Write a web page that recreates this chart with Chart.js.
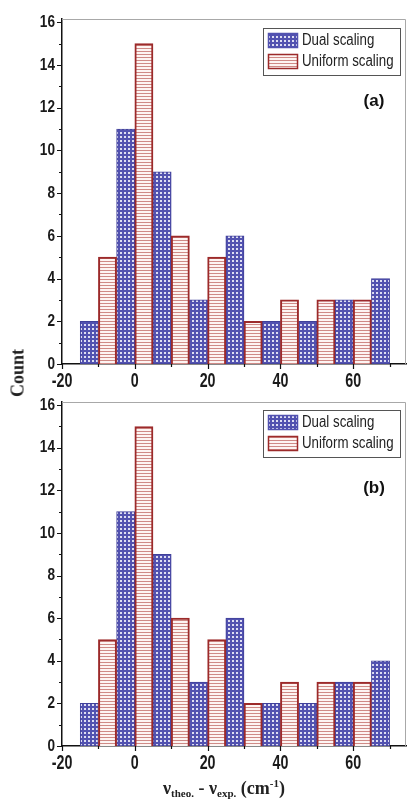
<!DOCTYPE html>
<html>
<head>
<meta charset="utf-8">
<script src="https://cdn.jsdelivr.net/npm/chart.js@4"></script>
<style>
  html, body { margin: 0; padding: 0; background: #fff; }
  body { width: 408px; height: 799px; position: relative; overflow: hidden; }
  .panel { position: absolute; left: 0; width: 408px; }
  #wrapA { top: 0; height: 392px; }
  #wrapB { top: 392px; height: 407px; }
  #yTitle {
    position: absolute; left: 18px; top: 373px;
    transform: translate(-50%, -50%) rotate(-90deg);
    font: bold 18px "Liberation Serif", "DejaVu Serif", serif; color: #222;
    white-space: nowrap;
  }
  #xTitle {
    position: absolute; left: 224px; top: 777px;
    transform: translateX(-50%);
    font: bold 18px "Liberation Serif", "DejaVu Serif", serif; color: #222;
    white-space: nowrap;
  }
  #xTitle sub { font-size: 11px; vertical-align: -3px; }
  #xTitle sup { font-size: 11px; vertical-align: 7px; }
</style>
</head>
<body>
<div class="panel" id="wrapA"><canvas id="chartA"></canvas></div>
<div class="panel" id="wrapB"><canvas id="chartB"></canvas></div>
<div id="yTitle">Count</div>
<div id="xTitle">ν<sub>theo.</sub> - ν<sub>exp.</sub> (cm<sup>-1</sup>)</div>
<script>
// bin centres (cm-1) and counts
const dualBinsA = [-12.5, -2.5, 7.5, 17.5, 27.5, 37.5, 47.5, 57.5, 67.5];
const dualCountsA = [2, 11, 9, 3, 6, 2, 2, 3, 4];
const uniformBinsA = [-7.5, 2.5, 12.5, 22.5, 32.5, 42.5, 52.5, 62.5];
const uniformCountsA = [5, 15, 6, 5, 2, 3, 3, 3];

const dualBinsB = [-12.5, -2.5, 7.5, 17.5, 27.5, 37.5, 47.5, 57.5, 67.5];
const dualCountsB = [2, 11, 9, 3, 6, 2, 2, 3, 4];
const uniformBinsB = [-7.5, 2.5, 12.5, 22.5, 32.5, 42.5, 52.5, 62.5];
const uniformCountsB = [5, 15, 6, 5, 2, 3, 3, 3];

const seriesNames = ['Dual scaling', 'Uniform scaling'];
const xTickValues = [-20, -10, 0, 10, 20, 30, 40, 50, 60, 70];
const yTickValues = [0, 1, 2, 3, 4, 5, 6, 7, 8, 9, 10, 11, 12, 13, 14, 15, 16];

const SANS = '"Liberation Sans", Arial, sans-serif';

// fill patterns
function dotPattern() {
    const c = document.createElement('canvas');
    c.width = 4; c.height = 4;
    const g = c.getContext('2d');
    g.fillStyle = '#5252b0';
    g.fillRect(0, 0, 4, 4);
    g.fillStyle = '#dedef2';
    g.fillRect(0, 0, 2, 2);
    return g.createPattern(c, 'repeat');
}
function stripePattern() {
    const c = document.createElement('canvas');
    c.width = 3; c.height = 3;
    const g = c.getContext('2d');
    g.fillStyle = '#fdf4f2';
    g.fillRect(0, 0, 3, 3);
    g.fillStyle = '#cf8a86';
    g.fillRect(0, 0, 3, 1);
    return g.createPattern(c, 'repeat');
}

// squeezed text to imitate the narrow font of the original
function narrowText(ctx, text, x, y, squeeze) {
    ctx.save();
    ctx.translate(x, y);
    ctx.scale(squeeze, 1);
    ctx.fillText(text, 0, 0);
    ctx.restore();
}

// ticks, tick labels, frame, legend box and panel letter
const decorPlugin = {
    id: 'decor',
    afterDatasetsDraw(chart, args, opts) {
        const ctx = chart.ctx;
        const a = chart.chartArea;
        const xs = chart.scales.x, ys = chart.scales.y;
        ctx.save();
        // grey frame on top and right
        ctx.strokeStyle = '#a8a8a8';
        ctx.lineWidth = 1;
        ctx.beginPath();
        ctx.moveTo(a.left, a.top + 0.5);
        ctx.lineTo(a.right - 0.5, a.top + 0.5);
        ctx.lineTo(a.right - 0.5, a.bottom);
        ctx.stroke();
        // ticks
        ctx.strokeStyle = '#111';
        ctx.lineWidth = 1.2;
        ctx.beginPath();
        xTickValues.forEach(v => {
            const px = Math.round(xs.getPixelForValue(v)) + 0.5;
            const len = v % 20 === 0 ? 5 : 3;
            ctx.moveTo(px, a.bottom);
            ctx.lineTo(px, a.bottom + len);
        });
        yTickValues.forEach(v => {
            const py = Math.round(ys.getPixelForValue(v)) + 0.5;
            const len = v % 2 === 0 ? 5 : 3;
            ctx.moveTo(a.left, py);
            ctx.lineTo(a.left - len, py);
        });
        ctx.stroke();
        // tick labels
        ctx.fillStyle = '#1a1a1a';
        ctx.font = 'bold 21px ' + SANS;
        ctx.textAlign = 'center';
        ctx.textBaseline = 'top';
        xTickValues.filter(v => v % 20 === 0).forEach(v => {
            narrowText(ctx, String(v), xs.getPixelForValue(v), a.bottom + 7, 0.68);
        });
        ctx.font = 'bold 17px ' + SANS;
        ctx.textAlign = 'right';
        ctx.textBaseline = 'middle';
        yTickValues.filter(v => v % 2 === 0).forEach(v => {
            narrowText(ctx, String(v), a.left - 7, ys.getPixelForValue(v), 0.8);
        });
        // legend box
        const b = opts.box;
        ctx.fillStyle = '#fff';
        ctx.fillRect(b.x, b.y, b.w, b.h);
        ctx.strokeStyle = '#555';
        ctx.lineWidth = 1;
        ctx.strokeRect(b.x + 0.5, b.y + 0.5, b.w, b.h);
        ctx.font = '16px ' + SANS;
        ctx.textBaseline = 'middle';
        ctx.textAlign = 'left';
        chart.data.datasets.slice().sort((p, q) => p.legendIndex - q.legendIndex).forEach((ds, i) => {
            const sy = b.y + 5 + i * 21;
            ctx.fillStyle = ds.backgroundColor;
            ctx.fillRect(b.x + 5, sy, 30, 15);
            ctx.strokeStyle = ds.legendBorder;
            ctx.lineWidth = 1.5;
            ctx.strokeRect(b.x + 5.5, sy + 0.5, 29, 14);
            ctx.fillStyle = '#222';
            narrowText(ctx, ds.label, b.x + 39, sy + 8, 0.83);
        });
        // panel letter
        ctx.font = 'bold 17px ' + SANS;
        ctx.textAlign = 'center';
        ctx.fillStyle = '#111';
        ctx.fillText(opts.letter, opts.letterX, opts.letterY);
        ctx.restore();
    }
};

function makePanel(canvasId, dualBins, dualCounts, uniformBins, uniformCounts, letter, topPad, axisH, box, letterY) {
    const ctx = document.getElementById(canvasId);
    return new Chart(ctx, {
        type: 'bar',
        data: {
            datasets: [
                {
                    label: seriesNames[0],
                    legendIndex: 0,
                    data: dualBins.map((x, i) => ({ x: x, y: dualCounts[i] })),
                    backgroundColor: dotPattern(),
                    borderColor: '#40409a',
                    legendBorder: '#5252b0',
                    borderWidth: 1,
                    borderSkipped: false,
                    grouped: false,
                    barPercentage: 1,
                    categoryPercentage: 1,
                    order: 1
                },
                {
                    label: seriesNames[1],
                    legendIndex: 1,
                    data: uniformBins.map((x, i) => ({ x: x, y: uniformCounts[i] })),
                    backgroundColor: stripePattern(),
                    borderColor: '#9c2a2a',
                    legendBorder: '#9c2a2a',
                    borderWidth: 2,
                    borderSkipped: 'bottom',
                    grouped: false,
                    barPercentage: 1,
                    categoryPercentage: 1,
                    order: 0
                }
            ]
        },
        options: {
            responsive: true,
            maintainAspectRatio: false,
            animation: false,
            devicePixelRatio: 1,
            layout: { padding: { top: topPad, right: 2, left: 0, bottom: 0 } },
            plugins: {
                legend: { display: false },
                tooltip: { enabled: false },
                decor: { box: box, letter: letter, letterX: 374, letterY: letterY }
            },
            scales: {
                x: {
                    type: 'linear',
                    min: -20,
                    max: 74.5,
                    offset: false,
                    afterFit: s => { s.height = axisH; },
                    grid: { display: false, drawTicks: false },
                    border: { display: true, color: '#111', width: 1.5 },
                    ticks: { display: false }
                },
                y: {
                    min: 0,
                    max: 16.15,
                    afterFit: s => { s.width = 62; },
                    grid: { display: false, drawTicks: false },
                    border: { display: true, color: '#111', width: 1.5 },
                    ticks: { display: false }
                }
            }
        },
        plugins: [decorPlugin]
    });
}

makePanel('chartA', dualBinsA, dualCountsA, uniformBinsA, uniformCountsA, '(a)', 19, 28,
    { x: 263, y: 28, w: 137, h: 47 }, 101);
makePanel('chartB', dualBinsB, dualCountsB, uniformBinsB, uniformCountsB, '(b)', 10, 53,
    { x: 263, y: 18, w: 137, h: 47 }, 96);
</script>
</body>
</html>
